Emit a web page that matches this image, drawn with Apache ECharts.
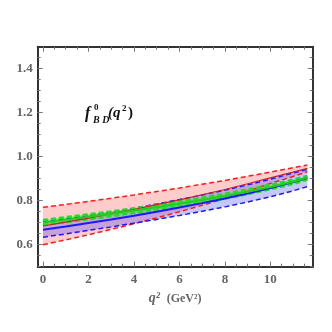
<!DOCTYPE html>
<html><head><meta charset="utf-8">
<script src="https://cdn.jsdelivr.net/npm/echarts@6/dist/echarts.min.js"></script>
<style>html,body{margin:0;padding:0;background:#fff}#c{width:332px;height:332px}</style>
</head><body><div id="c"></div>
<script>
// q^2 sample points (GeV^2)
var q2 = [0, 1, 2, 3, 4, 5, 6, 7, 8, 9, 10, 11, 11.63];
// red band (upper, lower, central)
var redUpper = [0.770, 0.783, 0.797, 0.811, 0.826, 0.842, 0.858, 0.875, 0.892, 0.911, 0.930, 0.950, 0.962];
var redLower = [0.600, 0.622, 0.645, 0.670, 0.695, 0.722, 0.750, 0.779, 0.810, 0.843, 0.878, 0.910, 0.932];
var redMid   = [0.685, 0.703, 0.721, 0.741, 0.760, 0.782, 0.804, 0.827, 0.851, 0.877, 0.904, 0.930, 0.947];
// blue band
var blueUpper = [0.703, 0.718, 0.733, 0.749, 0.766, 0.785, 0.805, 0.826, 0.848, 0.872, 0.898, 0.926, 0.943];
var blueLower = [0.634, 0.649, 0.665, 0.681, 0.698, 0.715, 0.733, 0.752, 0.772, 0.794, 0.818, 0.845, 0.864];
var blueMid   = [0.668, 0.683, 0.699, 0.715, 0.732, 0.750, 0.769, 0.789, 0.810, 0.833, 0.858, 0.885, 0.903];
// green band
var greenUpper = [0.712, 0.725, 0.738, 0.751, 0.765, 0.780, 0.796, 0.813, 0.831, 0.851, 0.872, 0.896, 0.913];
var greenLower = [0.690, 0.703, 0.716, 0.730, 0.744, 0.759, 0.775, 0.792, 0.810, 0.830, 0.852, 0.876, 0.896];
var greenMid   = [0.701, 0.714, 0.727, 0.741, 0.755, 0.770, 0.786, 0.803, 0.821, 0.841, 0.862, 0.886, 0.905];
// tick labels
var xTicks = [0, 2, 4, 6, 8, 10];
var yTicks = [0.6, 0.8, 1.0, 1.2, 1.4];

function pts(ys){ return q2.map(function(x,i){ return [x, ys[i]]; }); }
var xMinor = [], yMinor = [];
for (var v = 0; v <= 11.5; v += 0.5) xMinor.push(+v.toFixed(2));
for (var w = 0.5; w <= 1.5; w += 0.05) yMinor.push(+w.toFixed(2));

var FONT = '"Liberation Serif","DejaVu Serif",serif';
var XMIN = -0.233, XMAX = 11.863, YMIN = 0.5, YMAX = 1.5;
function xa(pos, vals, len, labels, line){
  return {type:'value', min:XMIN, max:XMAX, position:pos,
    axisLine:{show:line, onZero:false, lineStyle:{color:'#333', width:2}},
    axisTick:{show:true, inside:true, length:len, customValues:vals, lineStyle:{color:'#777', width:1}},
    axisLabel:labels ? {customValues:xTicks, color:'#666', fontFamily:FONT, fontWeight:'bold', fontSize:13, margin:6,
      formatter:function(v){return String(v);}} : {show:false},
    splitLine:{show:false}};
}
function ya(pos, vals, len, labels, line){
  return {type:'value', min:YMIN, max:YMAX, position:pos,
    axisLine:{show:line, onZero:false, lineStyle:{color:'#333', width:2}},
    axisTick:{show:true, inside:true, length:len, customValues:vals, lineStyle:{color:'#777', width:1}},
    axisLabel:labels ? {customValues:yTicks, color:'#666', fontFamily:FONT, fontWeight:'bold', fontSize:13, margin:5,
      formatter:function(v){return v.toFixed(1);}} : {show:false},
    splitLine:{show:false}};
}
var xAxes = [xa('bottom', xTicks, 5, true, true), xa('top', xTicks, 5, false, true),
             xa('bottom', xMinor, 3, false, false), xa('top', xMinor, 3, false, false)];
xAxes[0].name = '{q|q²}  {n|(GeV²)}';
xAxes[0].nameLocation = 'middle';
xAxes[0].nameGap = 25;
xAxes[0].nameTextStyle = {rich:{q:{fontFamily:FONT, fontStyle:'italic', fontWeight:'bold', fontSize:14, color:'#666'},
  n:{fontFamily:FONT, fontWeight:'bold', fontSize:12, color:'#666'}}};
var yAxes = [ya('left', yTicks, 5, true, true), ya('right', yTicks, 5, false, true),
             ya('left', yMinor, 3, false, false), ya('right', yMinor, 3, false, false)];

// filled band between lower and upper, drawn through the axes' scales
function band(lower, upper, color){
  return {type:'custom', data:[[0]], silent:true, z:1, clip:true,
    renderItem:function(params, api){
      var p = [];
      for (var i = 0; i < q2.length; i++) p.push(api.coord([q2[i], upper[i]]));
      for (var j = q2.length - 1; j >= 0; j--) p.push(api.coord([q2[j], lower[j]]));
      return {type:'polygon', shape:{points:p}, style:{fill:color, stroke:null}};
    }};
}
function line(data, color, width, dash, z){
  return {type:'line', data:pts(data), symbol:'none', smooth:false, silent:true,
    lineStyle:{color:color, width:width, type:dash ? [5,3] : 'solid'}, z:z};
}
var series = [
  band(redLower, redUpper, 'rgba(255,0,0,0.2)'),
  band(blueLower, blueUpper, 'rgba(40,40,255,0.26)'),
  band(greenLower, greenUpper, 'rgba(0,255,0,0.45)'),
  line(redUpper, '#ff1a1a', 1.5, true, 3),
  line(redLower, '#ff1a1a', 1.5, true, 3),
  line(blueUpper, '#1a1aff', 1.5, true, 3),
  line(blueLower, '#1a1aff', 1.5, true, 3),
  line(greenUpper, '#22dd22', 2.5, true, 4),
  line(greenLower, '#22dd22', 2.5, true, 4),
  line(redMid, '#cc2020', 1.2, false, 5),
  line(blueMid, '#1a1aff', 2, false, 5),
  line(greenMid, '#22cc22', 2, false, 5)
];

var chart = echarts.init(document.getElementById('c'), null, {renderer:'canvas'});
chart.setOption({
  animation:false,
  backgroundColor:'#fff',
  grid:{left:37.7, right:19.3, top:46.7, bottom:65.3, containLabel:false},
  xAxis:xAxes, yAxis:yAxes,
  series:series,
  graphic:[
    {type:'text', left:85, top:106, style:{text:'f', font:'italic bold 16px '+FONT, fill:'#111'}},
    {type:'text', left:94, top:103, style:{text:'0', font:'bold 9px '+FONT, fill:'#111'}},
    {type:'text', left:93, top:115, style:{text:'B D', font:'italic bold 10px '+FONT, fill:'#111'}},
    {type:'text', left:108, top:106, style:{text:'(q', font:'italic bold 15px '+FONT, fill:'#111'}},
    {type:'text', left:122, top:104, style:{text:'2', font:'bold 9px '+FONT, fill:'#111'}},
    {type:'text', left:128, top:106, style:{text:')', font:'bold 15px '+FONT, fill:'#111'}}
  ]
});
</script></body></html>
